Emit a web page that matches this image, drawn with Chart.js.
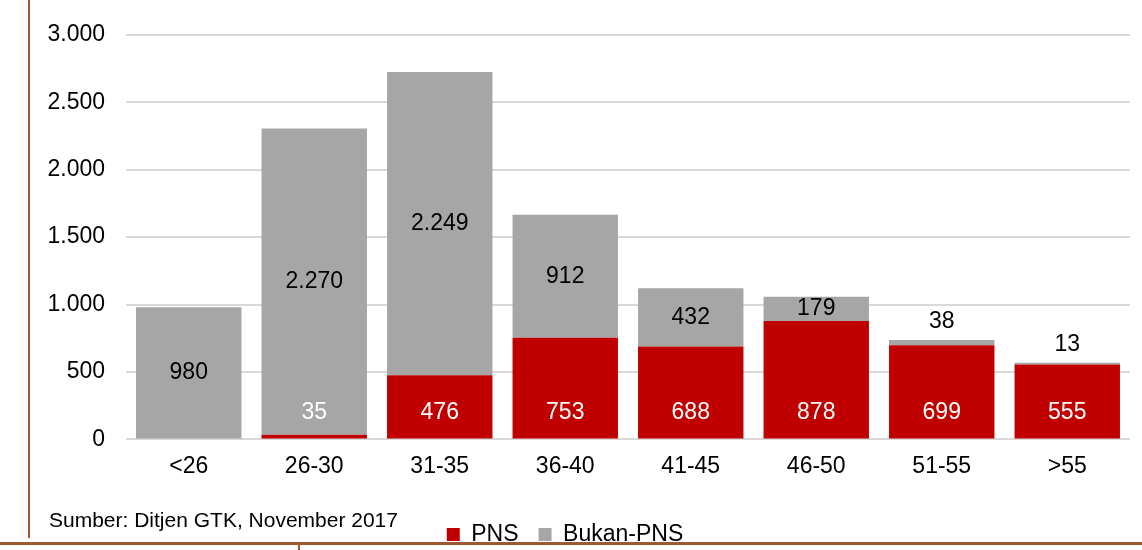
<!DOCTYPE html>
<html>
<head>
<meta charset="utf-8">
<script src="https://cdn.jsdelivr.net/npm/chart.js@4/dist/chart.umd.min.js"></script>
<style>
  body { margin: 0; background: #fff; }
  #wrap { position: relative; width: 1142px; height: 550px; overflow: hidden; }
  #chart { position: absolute; left: 0; top: 0; }
  .rule { position: absolute; background: #9e5a2e; }
  #source {
    position: absolute; left: 49px; top: 508px;
    font: 21px "Liberation Sans", Arial, sans-serif; color: #000;
  }
</style>
</head>
<body>
<div id="wrap">
  <canvas id="chart" width="1142" height="556"></canvas>
  <div id="source">Sumber: Ditjen GTK, November 2017</div>
  <div class="rule" style="left:28px;top:0;width:2px;height:538px"></div>
  <div class="rule" style="left:0;top:542px;width:1142px;height:3px"></div>
  <div class="rule" style="left:298px;top:544px;width:2px;height:6px"></div>
</div>
<script>
const ageGroups = ["<26", "26-30", "31-35", "36-40", "41-45", "46-50", "51-55", ">55"];
const pns = [0, 35, 476, 753, 688, 878, 699, 555];
const bukanPns = [980, 2270, 2249, 912, 432, 179, 38, 13];
const yTicks = [0, 500, 1000, 1500, 2000, 2500, 3000];

const FONT = "'Liberation Sans', Arial, sans-serif";

const fmt = v => v.toLocaleString("de-DE");

// value labels: PNS near the base in white, Bukan-PNS centred in its segment
const valueLabels = {
  id: "valueLabels",
  afterDatasetsDraw(chart) {
    const ctx = chart.ctx;
    const zero = chart.scales.y.getPixelForValue(0);
    ctx.save();
    ctx.font = "23px " + FONT;
    ctx.textAlign = "center";
    ctx.textBaseline = "middle";
    chart.getDatasetMeta(0).data.forEach((bar, i) => {
      if (!pns[i]) return;
      ctx.fillStyle = "#ffffff";
      ctx.fillText(fmt(pns[i]), bar.x, zero - 27);
    });
    chart.getDatasetMeta(1).data.forEach((bar, i) => {
      const h = bar.base - bar.y;
      let y = (bar.y + bar.base) / 2;
      if (h < 15) y = bar.y - 18;
      ctx.fillStyle = "#000000";
      ctx.fillText(fmt(bukanPns[i]), bar.x, y);
    });
    ctx.restore();
  }
};

new Chart(document.getElementById("chart"), {
  type: "bar",
  data: {
    labels: ageGroups,
    datasets: [
      {
        label: "PNS",
        data: pns,
        backgroundColor: "#c00000",
        barPercentage: 0.84,
        categoryPercentage: 1,
      },
      {
        label: "Bukan-PNS",
        data: bukanPns,
        backgroundColor: "#a6a6a6",
        barPercentage: 0.84,
        categoryPercentage: 1,
      },
    ],
  },
  plugins: [valueLabels],
  options: {
    responsive: false,
    animation: false,
    layout: { padding: { top: 33, right: 12, bottom: 0, left: 0 } },
    plugins: {
      tooltip: { enabled: false },
      legend: {
        position: "bottom",
        labels: {
          color: "#000",
          font: { family: FONT, size: 23 },
          boxWidth: 13,
          boxHeight: 13,
          padding: 20,
        },
      },
    },
    scales: {
      x: {
        stacked: true,
        afterFit: s => { s.height += 18; },
        grid: { display: false },
        border: { display: false },
        ticks: { color: "#000", font: { family: FONT, size: 23 }, padding: 5, maxRotation: 0 },
      },
      y: {
        stacked: true,
        min: 0,
        max: 3000,
        afterFit: s => { s.width = 126; },
        afterBuildTicks: s => { s.ticks = yTicks.map(v => ({ value: v })); },
        grid: { color: "#d9d9d9", lineWidth: 2, drawTicks: false },
        border: { display: false },
        ticks: {
          color: "#000",
          font: { family: FONT, size: 23 },
          padding: 21,
          callback: v => fmt(v),
        },
      },
    },
  },
});
</script>
</body>
</html>
